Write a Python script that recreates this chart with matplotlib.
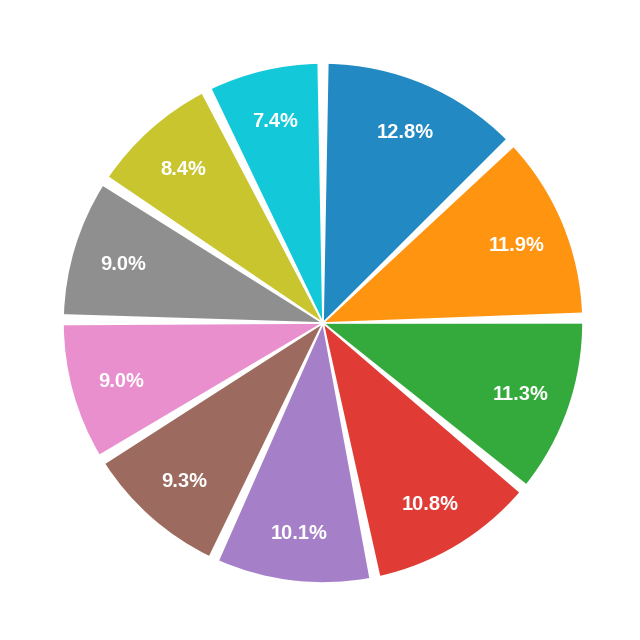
import matplotlib
matplotlib.use("Agg")
import matplotlib.pyplot as plt

labels = ["A", "B", "C", "D", "E", "F", "G", "H", "I", "J"]
values = [12.8, 11.9, 11.3, 10.8, 10.1, 9.3, 9.0, 9.0, 8.4, 7.4]
colors = ["#2389c2", "#ff9410", "#33aa3b", "#e03c35", "#a580c8",
          "#9c6a5e", "#e98fce", "#8f8f8f", "#c9c52f", "#12c8d9"]

PAD = 1.05  # degrees trimmed from each side of every wedge

fig = plt.figure(figsize=(6.4, 6.4), dpi=100)
ax = fig.add_axes([0, 0, 1, 1])
wedges, texts, autotexts = ax.pie(
    values, colors=colors, startangle=90, counterclock=False,
    autopct="%1.1f%%", pctdistance=0.805,
    wedgeprops=dict(edgecolor="white", linewidth=1.2),
    textprops=dict(color="white", fontsize=14.5, fontweight="bold",
                   family=["Liberation Sans", "DejaVu Sans"]))
for w in wedges:
    t1, t2 = w.theta1, w.theta2
    w.set_theta1(t1 + PAD)
    w.set_theta2(t2 - PAD)
for t in autotexts:
    x, y = t.get_position()
    t.set_position((x, y - 0.009))

R = 260.0
ax.set_xlim(-323 / R, 317 / R)
ax.set_ylim(-(640 - 323) / R, 323 / R)
ax.set_aspect("equal")
ax.axis("off")
fig.savefig("out.png", dpi=100)
